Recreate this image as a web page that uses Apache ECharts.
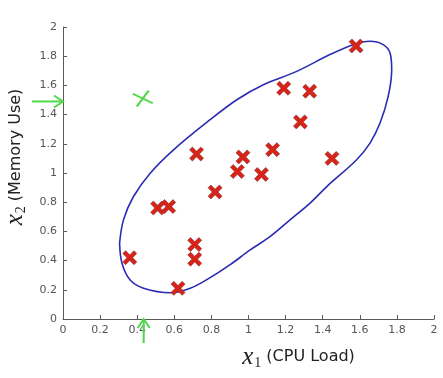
<!DOCTYPE html>
<html>
<head>
<meta charset="UTF-8">
<title></title>
<script src="https://cdn.jsdelivr.net/npm/echarts@6/dist/echarts.min.js"></script>
<style>
html,body{margin:0;padding:0;background:#fff;}
#main{width:443px;height:378px;}
</style>
</head>
<body>
<div id="main"></div>
<script>
// normal examples (red crosses)
var cpuLoad = [1.58, 1.19, 1.33, 1.28, 0.72, 0.97, 1.13, 1.45, 0.94, 1.07, 0.82, 0.51, 0.57, 0.71, 0.71, 0.36, 0.62];
var memUse  = [1.87, 1.58, 1.56, 1.35, 1.13, 1.11, 1.16, 1.10, 1.01, 0.99, 0.87, 0.76, 0.77, 0.51, 0.41, 0.42, 0.21];

// the anomaly (green cross)
var anomalyX = [0.43];
var anomalyY = [1.51];

// hand drawn contour
var contourX = [0.305, 0.326, 0.380, 0.470, 0.596, 0.793, 0.937, 1.080, 1.260, 1.439, 1.565, 1.655, 1.726, 1.763, 1.772, 1.753, 1.709, 1.655, 1.583, 1.422, 1.332, 1.224, 1.116, 1.009, 0.901, 0.793, 0.686, 0.578, 0.434, 0.362, 0.318, 0.305];
var contourY = [0.519, 0.679, 0.839, 0.999, 1.159, 1.365, 1.502, 1.605, 1.696, 1.811, 1.879, 1.902, 1.879, 1.822, 1.708, 1.525, 1.342, 1.205, 1.091, 0.907, 0.794, 0.679, 0.564, 0.473, 0.372, 0.283, 0.211, 0.180, 0.211, 0.267, 0.382, 0.519];

// green arrows pointing at the anomaly's coordinates
var arrowFrom = [[-0.167, 1.49], [0.435, -0.165]];
var arrowTo   = [[0, 1.49], [0.435, 0]];

var ticks = [0, 0.2, 0.4, 0.6, 0.8, 1, 1.2, 1.4, 1.6, 1.8, 2];

function zip(a, b){
	var out = [];
	for (var i = 0; i < a.length; i++) out.push([a[i], b[i]]);
	return out;
}

var nameRich = {
	m: {fontFamily: 'Liberation Serif', fontStyle: 'italic', fontSize: 25, color: '#222'},
	s: {fontFamily: 'Liberation Serif', fontSize: 14, color: '#222', padding: [12, 0, 0, 1]},
	n: {fontFamily: 'DejaVu Sans', fontSize: 16, color: '#222'}
};

var axisCommon = {
	type: 'value',
	min: ticks[0],
	max: ticks[ticks.length - 1],
	interval: ticks[1] - ticks[0],
	splitLine: {show: false},
	axisLine: {show: true, onZero: false, lineStyle: {color: '#5a5a5a', width: 1}},
	axisTick: {show: true, inside: true, length: 4, lineStyle: {color: '#5a5a5a'}},
	axisLabel: {color: '#555', fontSize: 11, fontFamily: 'DejaVu Sans', margin: 6}
};

var myChart = echarts.init(document.getElementById('main'));
var option = {
	animation: false,
	grid: {left: 63, right: 9, top: 27, bottom: 59, containLabel: false, outerBoundsMode: 'none'},
	xAxis: echarts.util.merge({
		name: '{m|x}{s|1}{n| (CPU Load)}',
		nameLocation: 'middle',
		nameGap: 25,
		nameTextStyle: {padding: [0, 0, 0, 100], rich: nameRich}
	}, axisCommon),
	yAxis: echarts.util.merge({
		name: '{m|x}{s|2}{n| (Memory Use)}',
		nameLocation: 'middle',
		nameGap: 28,
		nameTextStyle: {padding: [0, 0, 0, 32], rich: nameRich}
	}, axisCommon),
	series: [
		{
			type: 'line',
			data: zip(contourX, contourY),
			smooth: 0.35,
			showSymbol: false,
			lineStyle: {color: '#2b2bb5', width: 1.6},
			z: 2
		},
		{
			type: 'scatter',
			data: zip(cpuLoad, memUse),
			symbol: 'path://M2,0 L5,3 L8,0 L10,2 L7,5 L10,8 L8,10 L5,7 L2,10 L0,8 L3,5 L0,2 Z',
			symbolSize: 14,
			itemStyle: {color: '#d82418', borderColor: '#8a2a2a', borderWidth: 0.6, opacity: 1},
			z: 3
		},
		{
			type: 'scatter',
			data: zip(anomalyX, anomalyY),
			symbol: 'path://M0,2 L10,8 M8,0 L2,10',
			symbolSize: [20, 16],
			itemStyle: {color: 'rgba(0,0,0,0)', borderColor: '#52d84a', borderWidth: 2, opacity: 1},
			z: 3
		},
		{
			type: 'custom',
			clip: false,
			data: zip(arrowFrom, arrowTo),
			renderItem: function(params, api){
				var i = params.dataIndex;
				var p0 = api.coord(arrowFrom[i]);
				var p1 = api.coord(arrowTo[i]);
				var dx = p1[0] - p0[0], dy = p1[1] - p0[1];
				var len = Math.sqrt(dx * dx + dy * dy);
				var ux = dx / len, uy = dy / len;
				var h = 9, w = 6;
				var a = [p1[0] - ux * h - uy * w, p1[1] - uy * h + ux * w];
				var b = [p1[0] - ux * h + uy * w, p1[1] - uy * h - ux * w];
				var st = {stroke: '#4fd84a', lineWidth: 2, fill: null};
				return {
					type: 'group',
					children: [
						{type: 'polyline', shape: {points: [p0, p1]}, style: st},
						{type: 'polyline', shape: {points: [a, p1, b]}, style: st}
					]
				};
			},
			z: 4
		}
	]
};
myChart.setOption(option);
</script>
</body>
</html>
